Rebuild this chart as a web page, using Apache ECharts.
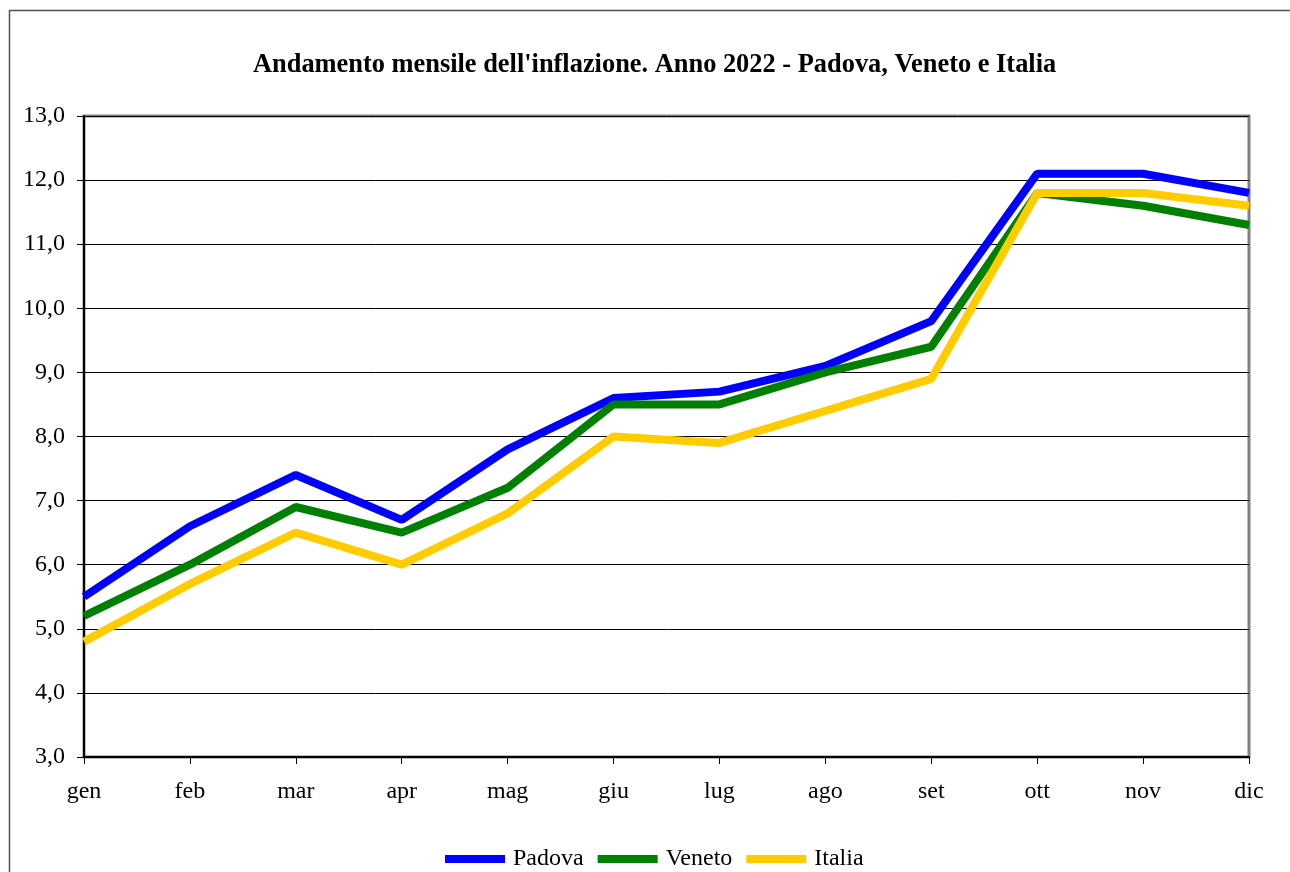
<!DOCTYPE html>
<html>
<head>
<meta charset="utf-8">
<script src="https://cdn.jsdelivr.net/npm/echarts@6/dist/echarts.min.js"></script>
<style>
html,body{margin:0;padding:0;background:#fff;}
#chart{width:1290px;height:872px;}
</style>
</head>
<body>
<div id="chart"></div>
<script>
var categories = ['gen','feb','mar','apr','mag','giu','lug','ago','set','ott','nov','dic'];
var padova = [5.5, 6.6, 7.4, 6.7, 7.8, 8.6, 8.7, 9.1, 9.8, 12.1, 12.1, 11.8];
var veneto = [5.2, 6.0, 6.9, 6.5, 7.2, 8.5, 8.5, 9.0, 9.4, 11.8, 11.6, 11.3];
var italia = [4.8, 5.7, 6.5, 6.0, 6.8, 8.0, 7.9, 8.4, 8.9, 11.8, 11.8, 11.6];
var titleText = "Andamento mensile dell'inflazione. Anno 2022 - Padova, Veneto e Italia";

var font = '"Liberation Serif", "Times New Roman", serif';
var chart = echarts.init(document.getElementById('chart'), null, {renderer: 'canvas'});
function mk(name, data, color) {
  return {
    name: name, type: 'line', data: data, symbol: 'none', smooth: false,
    lineStyle: {width: 8, color: color}, itemStyle: {color: color},
    emphasis: {disabled: true}, animation: false
  };
}
chart.setOption({
  backgroundColor: '#ffffff',
  animation: false,
  title: {
    text: titleText,
    left: 253, top: 52,
    padding: 0,
    textStyle: {fontFamily: font, fontWeight: 'bold', fontSize: 26.4, color: '#000'}
  },
  graphic: [{
    type: 'rect', silent: true, z: -1,
    shape: {x: 9.5, y: 10.5, width: 1300, height: 900},
    style: {fill: 'none', stroke: '#4a5160', lineWidth: 1.5}
  }],
  legend: {
    bottom: -4, left: 440,
    itemWidth: 60, itemHeight: 8, itemGap: 14,
    icon: 'rect',
    textStyle: {fontFamily: font, fontSize: 24, color: '#000', padding: [0,0,0,3]},
    data: ['Padova', 'Veneto', 'Italia']
  },
  grid: {
    left: 84, top: 116, right: 41, bottom: 115,
    show: true, borderColor: '#808080', borderWidth: 3, backgroundColor: 'transparent',
    containLabel: false
  },
  xAxis: {
    type: 'category', data: categories, boundaryGap: false,
    axisLine: {show: true, lineStyle: {color: '#000', width: 2}},
    axisTick: {show: true, alignWithLabel: true, length: 7, lineStyle: {color: '#000', width: 1}},
    axisLabel: {fontFamily: font, fontSize: 24, color: '#000', margin: 23},
    splitLine: {show: false}
  },
  yAxis: {
    type: 'value', min: 3, max: 13, interval: 1,
    axisLine: {show: true, lineStyle: {color: '#000', width: 2}},
    axisTick: {show: true, length: 7, lineStyle: {color: '#000', width: 1}},
    axisLabel: {fontFamily: font, fontSize: 24, color: '#000', margin: 19,
      formatter: function(v){ return v.toFixed(1).replace('.', ','); }},
    splitLine: {show: true, lineStyle: {color: '#000', width: 1}}
  },
  series: [
    mk('Padova', padova, '#0000ff'),
    mk('Veneto', veneto, '#008000'),
    mk('Italia', italia, '#ffcc00')
  ]
});
</script>
</body>
</html>
